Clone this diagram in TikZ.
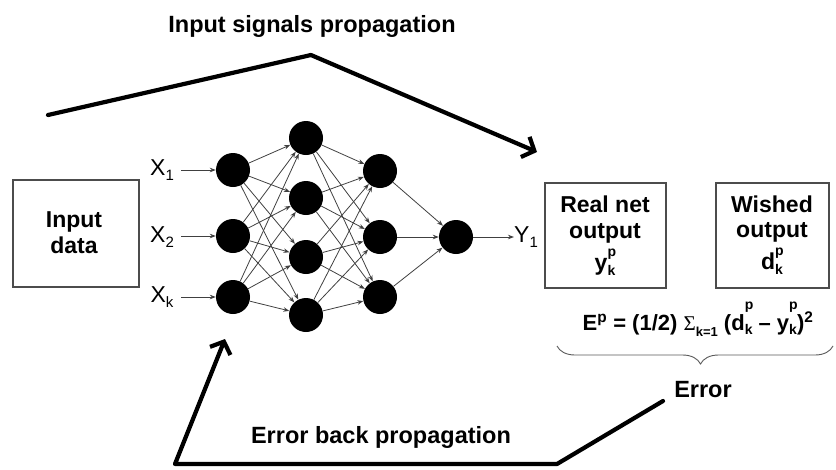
\documentclass[tikz,border=0pt]{standalone}
\usepackage{fontspec}
\setmainfont{Liberation Sans}
\newfontfamily\sigmafont{Liberation Serif}
\usetikzlibrary{arrows.meta,decorations.pathreplacing}

% index pair: superscript p stacked over subscript k
\newcommand\pidx[3]{#1\rlap{\raisebox{#3}{\fontsize{14}{14}\selectfont p}}\raisebox{-.22em}{\fontsize{14}{14}\selectfont k}}
\newcommand\lab[2]{#1\raisebox{-.25em}{\fontsize{15}{15}\selectfont #2}}

\begin{document}
\begin{tikzpicture}[x=1pt,y=-1pt,
  neuron/.style={circle,fill=black,minimum size=34pt,inner sep=0pt},
  link/.style={draw=black!75,line width=0.8pt,-{Stealth[length=6pt,width=4.5pt]}},
  frame/.style={draw=black!70,line width=1.3pt,inner sep=0pt},
  boxtext/.style={anchor=base,inner sep=0pt,font=\fontsize{23}{27}\selectfont\bfseries},
  xlabel/.style={font=\fontsize{23}{23}\selectfont,inner sep=0pt},
  heading/.style={font=\fontsize{23.5}{27}\selectfont\bfseries,inner sep=0pt},
  flow/.style={line width=4.2pt,line join=round,line cap=round,
    -{Straight Barb[length=10pt,width=22pt,line width=4.2pt]}}
]
\useasboundingbox (0,0) rectangle (836,469);

% input block
\node[frame,minimum width=126pt,minimum height=107pt] (in) at (76,233.5) {};
\node[boxtext] (in1) at (74,227) {Input};
\node[boxtext] (in2) at (74,253) {data};

% input labels
\node[xlabel] (x1) at (162,170) {\lab{X}{1}};
\node[xlabel] (x2) at (162,237) {\lab{X}{2}};
\node[xlabel] (xk) at (162,297) {\lab{X}{k}};

% layer 1
\node[neuron] (a1) at (233,170) {};
\node[neuron] (a2) at (233,236) {};
\node[neuron] (a3) at (233,297) {};
% layer 2
\node[neuron] (b1) at (306,138) {};
\node[neuron] (b2) at (306,198) {};
\node[neuron] (b3) at (306,257) {};
\node[neuron] (b4) at (306,315) {};
% layer 3
\node[neuron] (c1) at (380,171) {};
\node[neuron] (c2) at (380,237) {};
\node[neuron] (c3) at (380,297) {};
% output neuron
\node[neuron] (o) at (456,237) {};
\node[xlabel] (y1) at (526,237) {\lab{Y}{1}};

% input arrows
\coordinate (s1) at (181,170);
\coordinate (s2) at (181,236);
\coordinate (s3) at (181,297);
\draw[link] (s1) -- (a1);
\draw[link] (s2) -- (a2);
\draw[link] (s3) -- (a3);

% full connections
\foreach \i in {a1,a2,a3}
  \foreach \j in {b1,b2,b3,b4}
    \draw[link] (\i) -- (\j);
\foreach \i in {b1,b2,b3,b4}
  \foreach \j in {c1,c2,c3}
    \draw[link] (\i) -- (\j);
\foreach \i in {c1,c2,c3}
  \draw[link] (\i) -- (o);
\draw[link] (o) -- (y1.west);

% output blocks
\node[frame,minimum width=121pt,minimum height=105pt] (real) at (605.5,235.5) {};
\node[boxtext] (real1) at (605,212) {Real net};
\node[boxtext] (real2) at (605,238) {output};
\node[boxtext] (real3) at (605,270) {\pidx{y}{k}{.57em}};

\node[frame,minimum width=113pt,minimum height=105pt] (wish) at (772.5,235.5) {};
\node[boxtext] (wish1) at (772,212) {Wished};
\node[boxtext] (wish2) at (772,237) {output};
\node[boxtext] (wish3) at (772,269) {\pidx{d}{k}{.57em}};

% error formula
\node[anchor=base,font=\fontsize{22}{22}\selectfont\bfseries,inner sep=0pt] (eq) at (698,330)
  {E\textsuperscript{p} = (1/2) {\normalfont\sigmafont\fontsize{21}{21}\selectfont Σ}\raisebox{-.3em}{\fontsize{13}{13}\selectfont k=1} (\pidx{d}{k}{.95em} – \pidx{y}{k}{.95em})\textsuperscript{2}};

% brace under the formula
\coordinate (bl) at (557,346);
\coordinate (br) at (833,346);
\draw[black!65,line width=0.9pt,decorate,decoration={brace,mirror,amplitude=18pt,aspect=0.52}] (bl) -- (br);
\node[heading] (err) at (703,390) {Error};

% headings
\node[heading] (top) at (312,26) {Input signals propagation};
\node[heading] (bottom) at (381,437) {Error back propagation};

% forward flow arrow
\coordinate (f0) at (48,115);
\coordinate (f1) at (311,55);
\coordinate (f2) at (537,152);
\draw[flow] (f0) -- (f1) -- (f2);

% backward flow arrow
\coordinate (e0) at (663,401);
\coordinate (e1) at (557,464);
\coordinate (e2) at (175,464);
\coordinate (e3) at (225,339);
\draw[flow] (e0) -- (e1) -- (e2) -- (e3);
\end{tikzpicture}
\end{document}
